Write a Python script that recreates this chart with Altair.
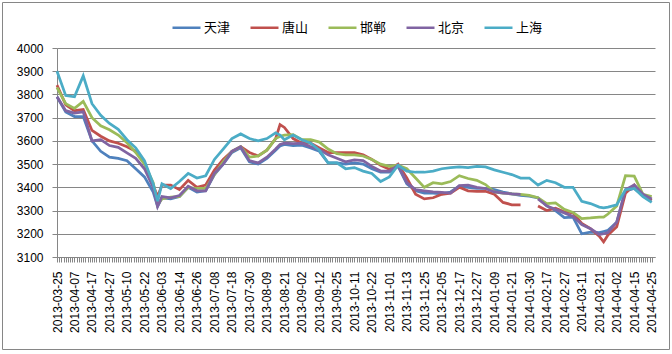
import json
import altair as alt
import pandas as pd

date_labels = ["2013-03-25", "2013-04-07", "2013-04-17", "2013-04-27", "2013-05-10",
               "2013-05-22", "2013-06-03", "2013-06-14", "2013-06-26", "2013-07-08",
               "2013-07-18", "2013-07-30", "2013-08-09", "2013-08-21", "2013-09-02",
               "2013-09-12", "2013-09-25", "2013-10-11", "2013-10-22", "2013-11-01",
               "2013-11-13", "2013-11-25", "2013-12-05", "2013-12-17", "2013-12-27",
               "2014-01-09", "2014-01-21", "2014-01-30", "2014-02-17", "2014-02-27",
               "2014-03-11", "2014-03-21", "2014-04-02", "2014-04-15", "2014-04-25"]

# trading-day index of each sampled point (labels every 8 trading days)
days = [0, 4, 8, 12, 16, 20, 24, 28, 32, 36, 40, 44, 46, 48, 52, 56, 60, 64, 68, 72,
        76, 80, 84, 88, 92, 96, 100, 102, 104, 108, 112, 116, 120, 124, 128, 132, 136,
        140, 144, 148, 152, 156, 160, 164, 168, 172, 176, 180, 184, 188, 192, 196, 200,
        204, 208, 212, 216, 220, 224, 228, 232, 236, 240, 244, 248, 250, 252, 256, 260,
        264, 268, 272]

tianjin = [3790, 3725, 3705, 3705, 3600, 3555, 3530, 3525, 3515, 3480, 3445, 3380, 3318,
           3355, 3350, 3360, 3400, 3380, 3385, 3455, 3500, 3550, 3570, 3510, 3500, 3525,
           3560, 3578, 3585, 3580, 3582, 3570, 3555, 3505, 3505, 3500, 3505, 3500, 3480,
           3465, 3465, 3490, 3415, 3385, 3375, 3375, 3372, 3380, 3405, 3400, 3395, 3395,
           3390, 3380, 3372, 3365, 3362, 3355, 3320, 3300, 3270, 3272, 3200, 3207, 3205,
           3210, 3215, 3250, 3385, 3395, 3365, 3345]
tangshan = [3840, 3755, 3730, 3735, 3645, 3620, 3600, 3590, 3575, 3555, 3505, 3410, 3360,
            3410, 3410, 3390, 3430, 3400, 3410, 3475, 3520, 3555, 3575, 3550, 3535, 3560,
            3610, 3670, 3658, 3610, 3590, 3590, 3570, 3550, 3550, 3550, 3550, 3540, 3520,
            3495, 3478, 3500, 3440, 3370, 3350, 3355, 3370, 3375, 3400, 3385, 3383, 3383,
            3370, 3335, 3325, 3325, None, 3320, 3300, 3310, 3295, 3290, 3245, 3222, 3190,
            3165, 3195, 3230, 3375, 3410, 3365, 3345]
handan = [3830, 3760, 3740, 3770, 3700, 3665, 3648, 3625, 3592, 3550, 3500, 3420, 3325,
          3350, 3358, 3360, 3400, 3395, 3395, 3455, 3510, 3555, 3575, 3530, 3535, 3560,
          3610, 3620, 3625, 3627, 3605, 3605, 3595, 3565, 3545, 3540, 3540, 3535, 3520,
          3500, 3490, 3495, 3480, 3440, 3400, 3420, 3415, 3425, 3450, 3438, 3430, 3412,
          3380, 3375, 3372, 3370, 3365, 3355, 3330, 3333, 3305, 3292, 3265, 3268, 3272,
          3272, 3285, 3320, 3450, 3448, 3370, 3360]
beijing = [3790, 3730, 3720, 3725, 3600, 3605, 3580, 3572, 3548, 3525, 3480, 3400, 3318,
           3360, 3355, 3365, 3405, 3385, 3385, 3460, 3500, 3555, 3575, 3515, 3505, 3530,
           3565, 3585, 3590, 3588, 3590, 3575, 3562, 3540, 3525, 3510, 3518, 3515, 3490,
           3470, 3470, 3495, 3420, 3390, 3385, 3380, 3378, 3375, 3408, 3410, 3400, 3395,
           3380, 3375, 3372, 3370, None, 3350, 3320, 3305, 3290, 3275, 3240, 3222, 3197,
           3200, 3205, 3250, 3390, 3410, 3370, 3350]
shanghai = [3900, 3795, 3790, 3880, 3760, 3710, 3675, 3650, 3605, 3570, 3515, 3415, 3340,
            3415, 3395, 3425, 3460, 3440, 3450, 3520, 3565, 3610, 3630, 3610, 3600, 3610,
            3635, 3625, 3605, 3625, 3605, 3590, 3560, 3505, 3505, 3480, 3485, 3470, 3460,
            3425, 3445, 3495, 3470, 3465, 3465, 3470, 3480, 3485, 3488, 3485, 3490, 3488,
            3475, 3465, 3455, 3440, 3440, 3410, 3430, 3420, 3400, 3400, 3340, 3330, 3315,
            3312, 3315, 3325, 3390, 3395, 3360, 3335]

series_names = ["天津", "唐山", "邯郸", "北京", "上海"]
series_values = [tianjin, tangshan, handan, beijing, shanghai]
colors = ["#4F81BD", "#C0504D", "#9BBB59", "#8064A2", "#4BACC6"]

rows = []
for name, vals in zip(series_names, series_values):
    for d, v in zip(days, vals):
        rows.append({"day": d, "city": name, "price": v})
df = pd.DataFrame(rows)

label_expr = "datum.value % 8 == 0 ? " + json.dumps(date_labels) + "[datum.value / 8] : ''"

x_enc = alt.X("day:Q",
              scale=alt.Scale(domain=[0, 273.5], nice=False, zero=False),
              axis=alt.Axis(values=list(range(273)), labelExpr=label_expr, labelAngle=-90,
                            labelOverlap=False, labelFontSize=12, labelPadding=9,
                            tickSize=5, tickColor="#868686", domainColor="#868686",
                            grid=False, title=None, labelFont="Liberation Sans",
                            labelColor="#000000"))
y_enc = alt.Y("price:Q",
              scale=alt.Scale(domain=[3100, 4000], nice=False, zero=False),
              axis=alt.Axis(values=list(range(3100, 4001, 100)), format="d", grid=True,
                            gridColor="#868686", gridWidth=1, tickSize=5,
                            tickColor="#868686", domainColor="#868686", labelPadding=9,
                            labelFontSize=12, labelFont="Liberation Sans",
                            labelColor="#000000", title=None))
color_enc = alt.Color("city:N",
                      scale=alt.Scale(domain=series_names, range=colors),
                      legend=alt.Legend(orient="none", legendX=114, legendY=-36,
                                        direction="horizontal", title=None,
                                        symbolType="stroke", symbolSize=784,
                                        symbolStrokeWidth=2.5, labelFontSize=13,
                                        labelFont="Noto Sans CJK SC", labelColor="#000000",
                                        columnPadding=14, labelOffset=2))

base = alt.Chart(df)
lines = [
    base.transform_filter(alt.datum.city == name)
    .mark_line(strokeWidth=2.75, invalid="break-paths-show-domains")
    .encode(x=x_enc, y=y_enc, color=color_enc)
    for name in series_names
]

frame = alt.Chart(alt.Data(values=[{}])).mark_rect(
    fillOpacity=0, stroke="#868686", strokeWidth=1
).encode(x=alt.value(-54.5), x2=alt.value(612.5), y=alt.value(-45.5), y2=alt.value(301.5))

chart = alt.layer(frame, *lines).properties(
    width=598, height=209,
    autosize=alt.AutoSizeParams(type="none"),
    padding={"left": 57, "top": 48, "right": 17, "bottom": 97},
    background="white",
).configure_view(stroke=None)

chart.save("out.html", embed_options={"renderer": "svg", "actions": False})
